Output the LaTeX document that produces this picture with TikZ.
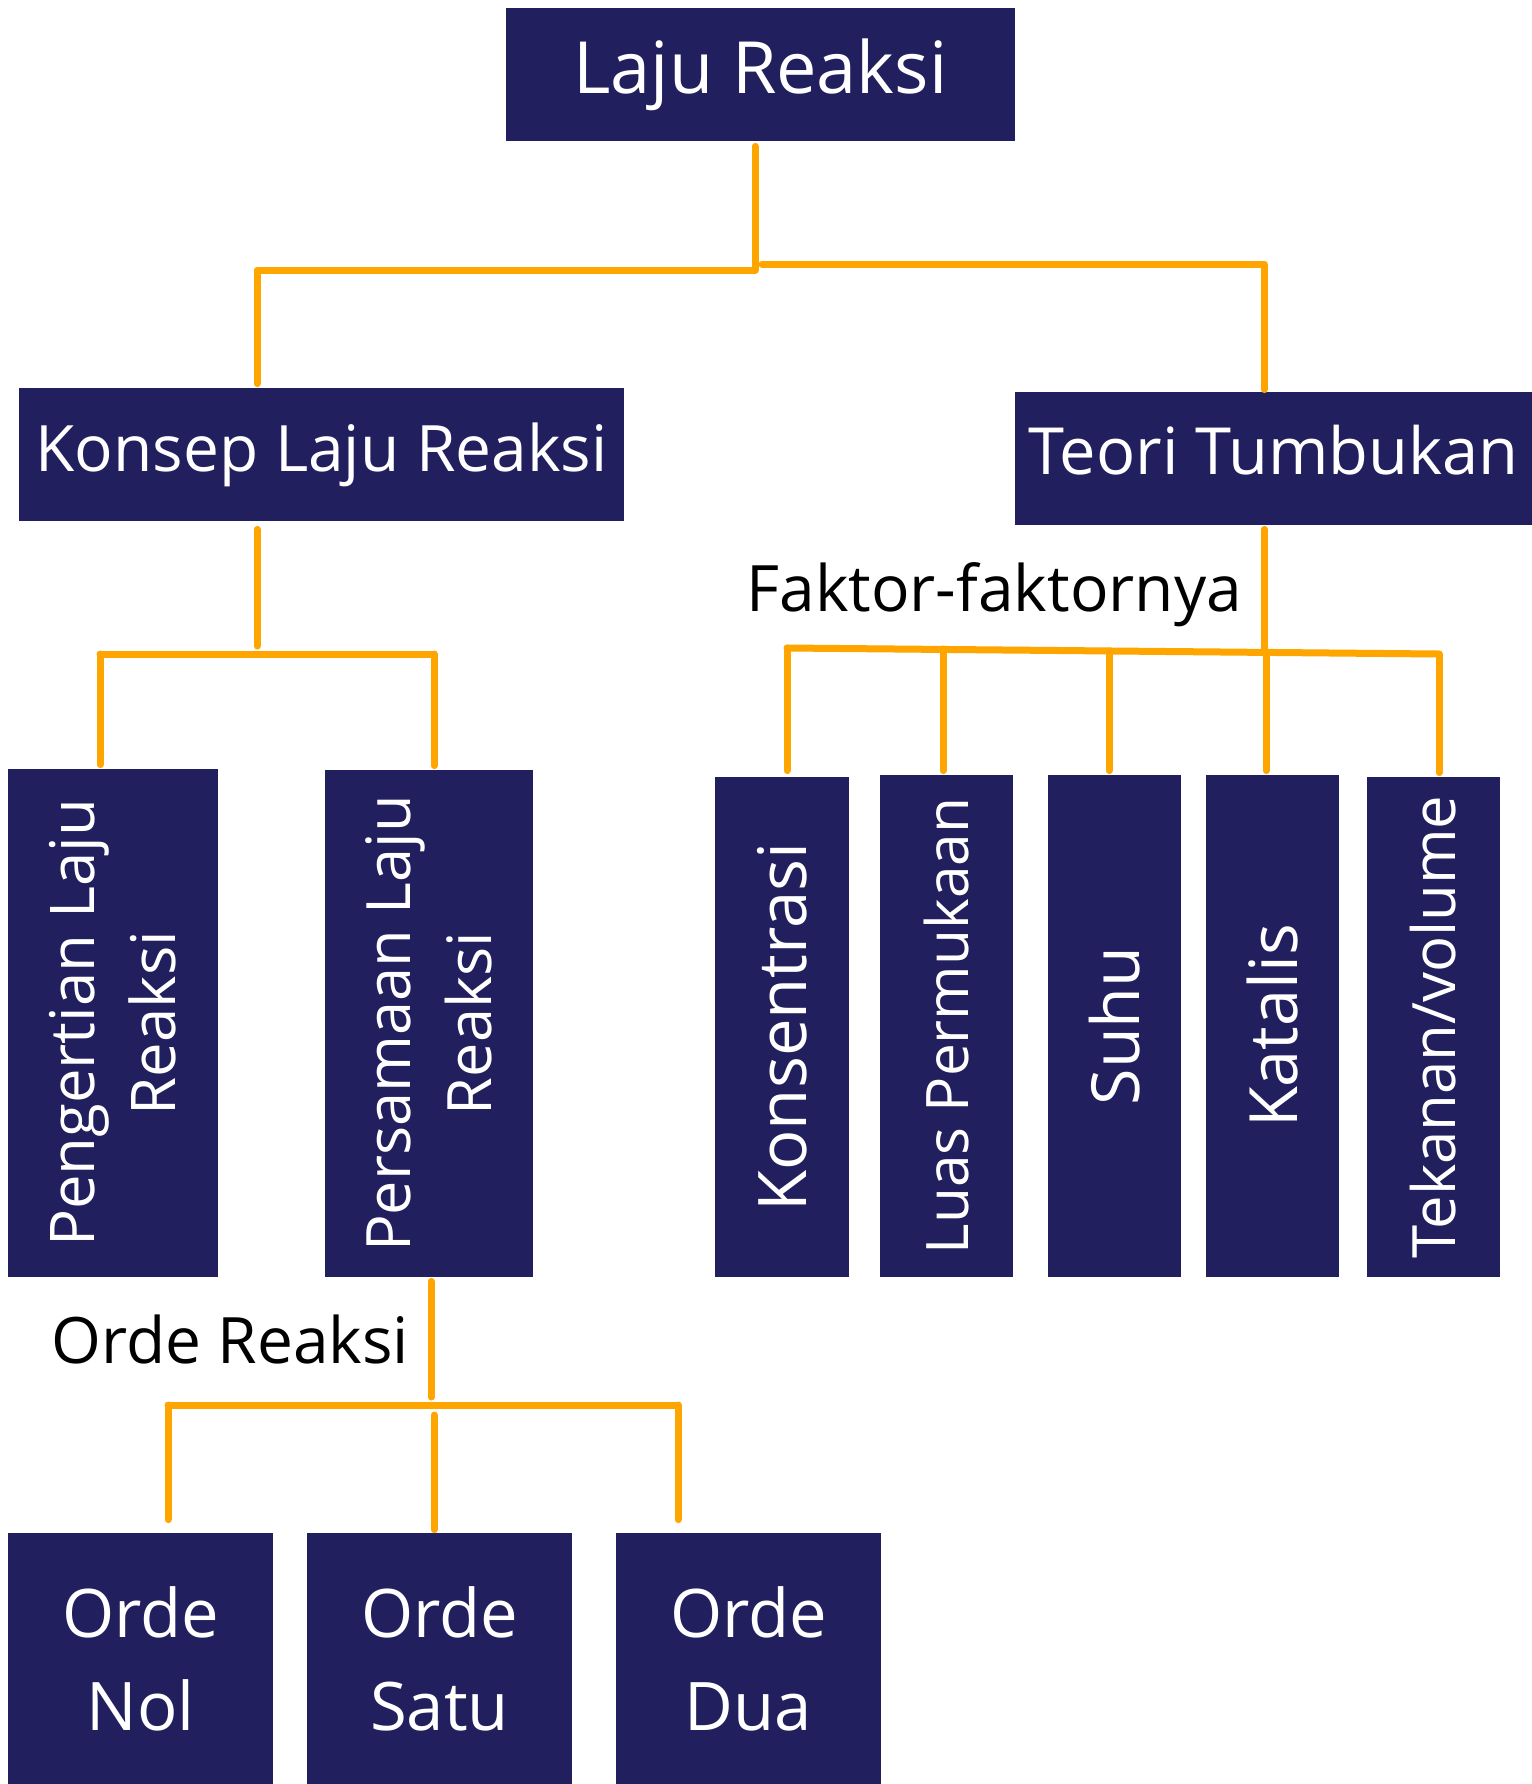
\documentclass[tikz,border=0pt]{standalone}
\usepackage{fontspec}
\setmainfont{Open Sans}
\usetikzlibrary{calc}

\definecolor{boxnavy}{RGB}{34,31,94}
\definecolor{linkorange}{RGB}{255,165,0}

\tikzset{
  box/.style={fill=boxnavy, text=white, inner sep=0pt, align=center,
    font=\fontsize{32}{41.5}\selectfont},
  link/.style={linkorange, line width=3.5pt, line cap=round, line join=round},
  tag/.style={inner sep=0pt, font=\fontsize{32}{40}\selectfont}
}

\begin{document}
\begin{tikzpicture}[x=0.5pt, y=-0.5pt]
  \useasboundingbox (0,0) rectangle (1532,1784);
  % boxes
  \node[box, minimum width=254.5pt, minimum height=66.5pt,
    font=\fontsize{36}{42}\selectfont] (laju) at (760.5,74.5) {Laju Reaksi};
  \node[box, minimum width=302.5pt, minimum height=66.5pt] (konsep) at (321.5,454.5) {Konsep Laju Reaksi};
  \node[box, minimum width=258.5pt, minimum height=66.5pt, text depth=8.5pt,
    font=\fontsize{32.5}{40}\selectfont] (teori) at (1273.5,458.5) {Teori Tumbukan};
  \node[box, rotate=90, minimum width=254pt, minimum height=105pt,
    font=\fontsize{30.8}{40.5}\selectfont] (pengertian) at (113,1023) {Pengertian Laju\\Reaksi};
  \node[box, rotate=90, minimum width=253.5pt, minimum height=104pt,
    font=\fontsize{30.6}{40.5}\selectfont] (persamaan) at (429,1023.5) {Persamaan Laju\\Reaksi};
  \node[box, rotate=90, minimum width=250pt, minimum height=67pt,
    font=\fontsize{33.5}{40}\selectfont] (konsentrasi) at (782,1027) {Konsentrasi};
  \node[box, rotate=90, minimum width=251pt, minimum height=66.5pt,
    font=\fontsize{29.3}{40}\selectfont] (luas) at (946.5,1026) {Luas Permukaan};
  \node[box, rotate=90, minimum width=251pt, minimum height=66.5pt,
    font=\fontsize{33.2}{40}\selectfont] (suhu) at (1114.5,1026) {Suhu};
  \node[box, rotate=90, minimum width=251pt, minimum height=66.5pt,
    font=\fontsize{33.3}{40}\selectfont] (katalis) at (1272.5,1026) {Katalis};
  \node[box, rotate=90, minimum width=250pt, minimum height=66.5pt,
    font=\fontsize{29.9}{40}\selectfont] (tekanan) at (1433.5,1027) {Tekanan/volume};
  \node[box, minimum width=132.5pt, minimum height=125.5pt,
    font=\fontsize{33.5}{46.5}\selectfont] (nol) at (140.5,1658.5) {Orde\\Nol};
  \node[box, minimum width=132.5pt, minimum height=125.5pt,
    font=\fontsize{33.5}{46.5}\selectfont] (satu) at (439.5,1658.5) {Orde\\Satu};
  \node[box, minimum width=132.5pt, minimum height=125.5pt,
    font=\fontsize{33.5}{46.5}\selectfont] (dua) at (748.5,1658.5) {Orde\\Dua};
  % labels
  \node[tag, anchor=base west] (faktor) at (746,611) {Faktor-faktornya};
  \node[tag, anchor=base west] (orde) at (51,1363) {Orde Reaksi};

  % level 1
  \coordinate (a0) at (755,266);
  \coordinate (a1) at (257,270);
  \coordinate (a2) at (762,264);
  \coordinate (a3) at (1264,264);
  \draw[link] ($(laju.south -| a0)+(0,5)$) -- (a0) -- (a0 |- a1) -- (a1) -- ($(a1 |- konsep.north)+(0,-4)$);
  \draw[link] (a2) -- (a3) -- ($(a3 |- teori.north)+(0,-2)$);

  % konsep
  \coordinate (b0) at (257,646);
  \coordinate (b1) at (100,654);
  \coordinate (b2) at (434,654);
  \draw[link] ($(konsep.south -| b0)+(0,8)$) -- (b0);
  \draw[link] (b1) -- (b2);
  \draw[link] (b1) -- ($(b1 |- pengertian.east)+(0,-4)$);
  \draw[link] (b2) -- ($(b2 |- persamaan.east)+(0,-4)$);

  % teori
  \coordinate (c0) at (1264,651);
  \coordinate (c1) at (787,648);
  \coordinate (c2) at (1439,654);
  \draw[link] ($(teori.south -| c0)+(0,4)$) -- (c0);
  \draw[link] (c1) -- (c2);
  \draw[link] (c1) -- ($(c1 |- konsentrasi.east)+(0,-6)$);
  \draw[link] (943,649) -- ($(943,649 |- luas.east)+(0,-4)$);
  \draw[link] (1109,651) -- ($(1109,651 |- suhu.east)+(0,-4)$);
  \draw[link] (1266,652) -- ($(1266,652 |- katalis.east)+(0,-4)$);
  \draw[link] (c2) -- ($(c2 |- tekanan.east)+(0,-4)$);

  % orde
  \coordinate (d0) at (431,1397);
  \coordinate (d1) at (168,1405);
  \coordinate (d2) at (678,1405);
  \draw[link] ($(persamaan.west -| d0)+(0,4)$) -- (d0);
  \draw[link] (d1) -- (d2);
  \draw[link] (d1) -- ($(d1 |- nol.north)+(0,-13)$);
  \draw[link] (434,1415) -- ($(434,1415 |- satu.north)+(0,-3)$);
  \draw[link] (d2) -- ($(d2 |- dua.north)+(0,-13)$);
\end{tikzpicture}
\end{document}
